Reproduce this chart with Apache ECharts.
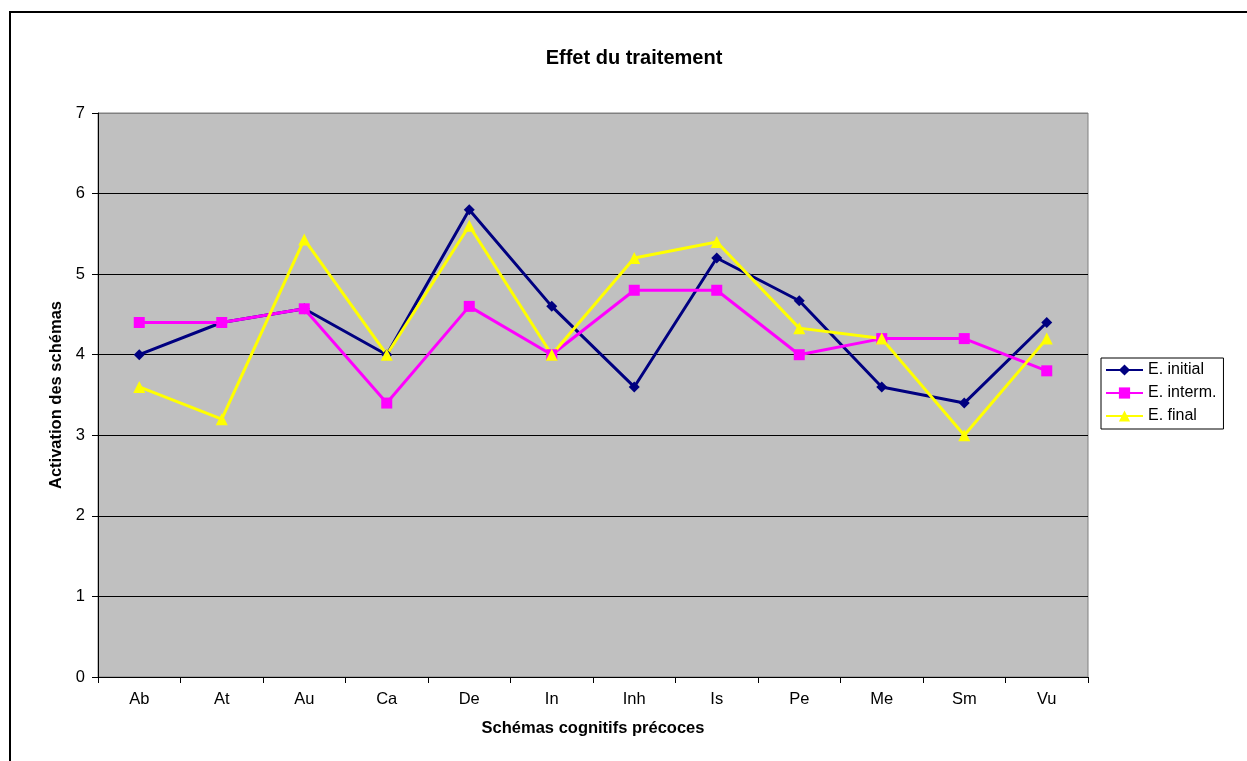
<!DOCTYPE html>
<html>
<head>
<meta charset="utf-8">
<script src="https://cdn.jsdelivr.net/npm/echarts@6/dist/echarts.min.js"></script>
<style>
  html, body { margin: 0; padding: 0; background: #ffffff; }
  #chart { width: 1247px; height: 761px; }
</style>
</head>
<body>
<div id="chart"></div>
<script>
// Schema categories along the x axis
const categories = ['Ab', 'At', 'Au', 'Ca', 'De', 'In', 'Inh', 'Is', 'Pe', 'Me', 'Sm', 'Vu'];

// Mean activation per schema at each stage of treatment
const initialValues = [4.0, 4.4, 4.57, 4.0, 5.8, 4.6, 3.6, 5.2, 4.67, 3.6, 3.4, 4.4];
const intermValues  = [4.4, 4.4, 4.57, 3.4, 4.6, 4.0, 4.8, 4.8, 4.0, 4.2, 4.2, 3.8];
const finalValues   = [3.6, 3.2, 5.43, 4.0, 5.6, 4.0, 5.2, 5.4, 4.33, 4.2, 3.0, 4.2];

const seriesNames = ['E. initial', 'E. interm.', 'E. final'];

const FONT = '"Liberation Sans", Arial, sans-serif';

const chart = echarts.init(document.getElementById('chart'), null, { renderer: 'canvas' });

function lineSeries(name, data, color, symbol, size) {
  return {
    name: name,
    type: 'line',
    data: data,
    symbol: symbol,
    symbolSize: size,
    showAllSymbol: true,
    lineStyle: { color: color, width: 3 },
    itemStyle: { color: color, borderWidth: 0 },
    emphasis: { disabled: true },
    animation: false
  };
}

chart.setOption({
  animation: false,
  backgroundColor: '#ffffff',
  graphic: [{
    type: 'rect',
    shape: { x: 10, y: 12, width: 1400, height: 900 },
    style: { fill: 'none', stroke: '#000000', lineWidth: 2 },
    silent: true,
    z: -1
  }],
  title: {
    text: 'Effet du traitement',
    left: 629,
    top: 43,
    textAlign: 'center',
    textStyle: { fontFamily: FONT, fontSize: 20, fontWeight: 'bold', color: '#000000' }
  },
  legend: {
    orient: 'vertical',
    left: 1101,
    top: 358,
    data: seriesNames,
    itemWidth: 37,
    itemHeight: 14,
    itemGap: 7,
    itemStyle: { borderWidth: 0 },
    padding: [4, 7, 5, 4],
    borderColor: '#000000',
    borderWidth: 1,
    backgroundColor: '#ffffff',
    textStyle: { fontFamily: FONT, fontSize: 16, color: '#000000' }
  },
  grid: {
    left: 98,
    right: 159,
    top: 113,
    bottom: 84,
    show: true,
    backgroundColor: '#c0c0c0',
    borderColor: '#808080',
    borderWidth: 1,
    containLabel: false
  },
  xAxis: {
    type: 'category',
    data: categories,
    boundaryGap: true,
    name: 'Schémas cognitifs précoces',
    nameLocation: 'middle',
    nameGap: 43,
    nameTextStyle: { fontFamily: FONT, fontSize: 16.5, fontWeight: 'bold', color: '#000000' },
    axisLine: { show: true, lineStyle: { color: '#000000', width: 1 } },
    axisTick: { show: true, alignWithLabel: false, length: 6, lineStyle: { color: '#000000' } },
    axisLabel: { fontFamily: FONT, fontSize: 16.5, color: '#000000', margin: 14 },
    splitLine: { show: false }
  },
  yAxis: {
    type: 'value',
    min: 0,
    max: 7,
    interval: 1,
    name: 'Activation des schémas',
    nameLocation: 'middle',
    nameGap: 29,
    nameRotate: 90,
    nameTextStyle: { fontFamily: FONT, fontSize: 16.5, fontWeight: 'bold', color: '#000000' },
    axisLine: { show: true, lineStyle: { color: '#000000', width: 1 } },
    axisTick: { show: true, length: 6, lineStyle: { color: '#000000' } },
    axisLabel: { fontFamily: FONT, fontSize: 16.5, color: '#000000', margin: 13 },
    splitLine: {
      show: true,
      lineStyle: { color: ['#808080', '#000000', '#000000', '#000000', '#000000', '#000000', '#000000'], width: 1 }
    }
  },
  series: [
    lineSeries(seriesNames[0], initialValues, '#000080', 'diamond', 11),
    lineSeries(seriesNames[1], intermValues, '#ff00ff', 'rect', 11),
    lineSeries(seriesNames[2], finalValues, '#ffff00', 'triangle', 12)
  ]
});
</script>
</body>
</html>
